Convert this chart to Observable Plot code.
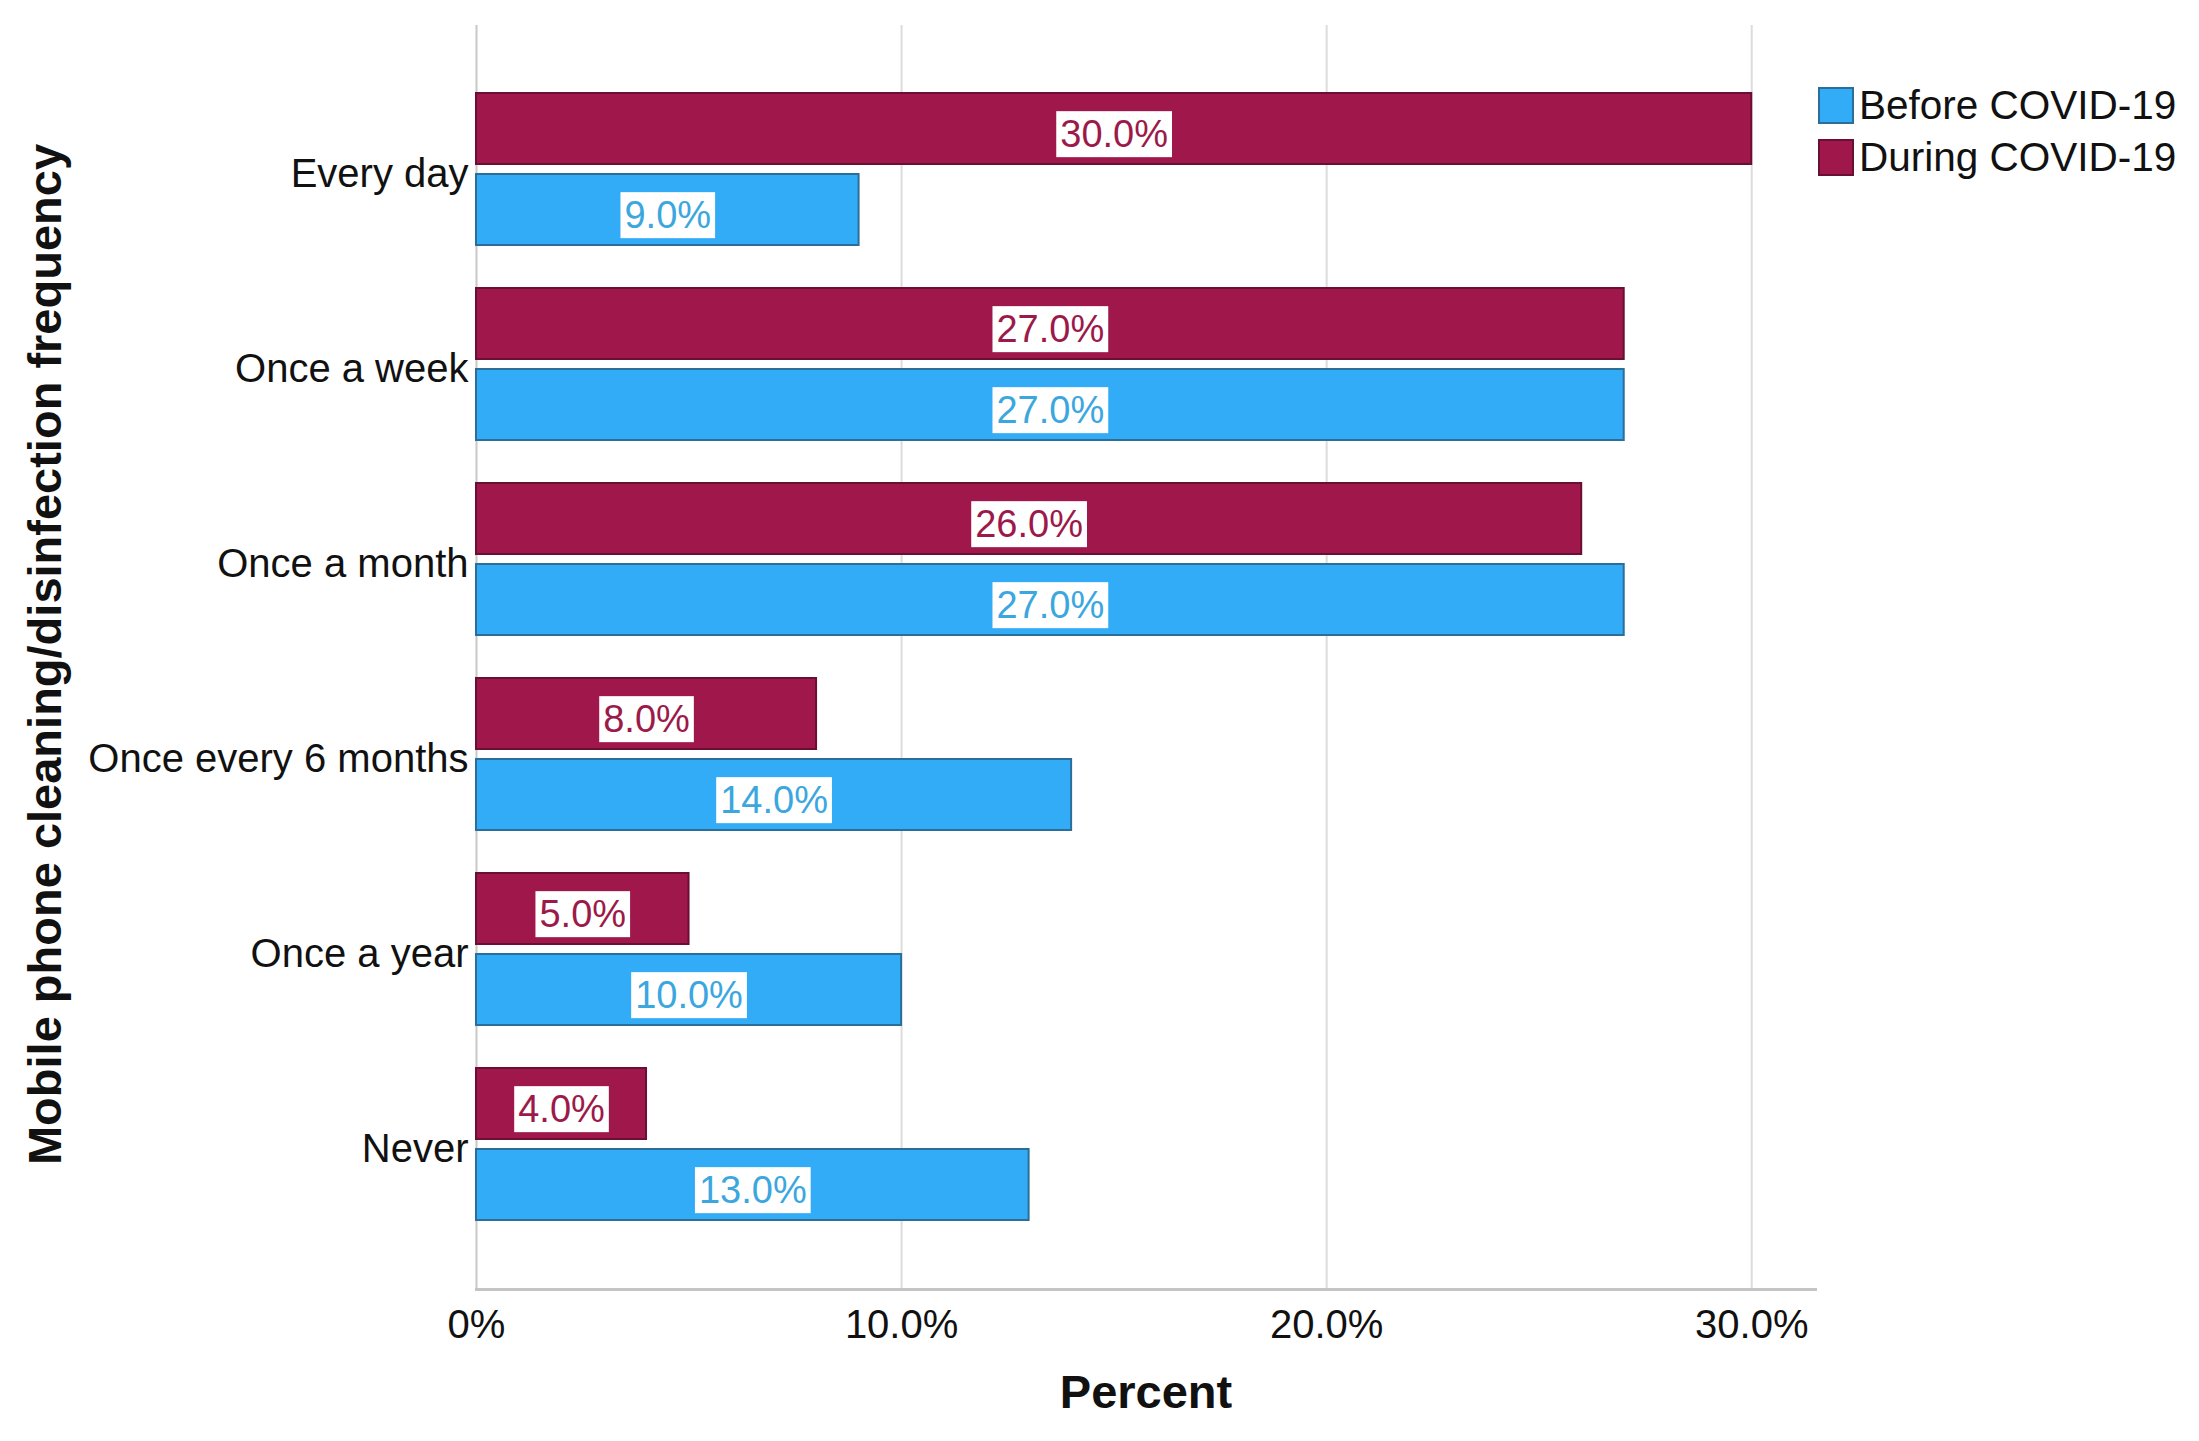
<!DOCTYPE html>
<html>
<head>
<meta charset="utf-8">
<script src="https://cdn.jsdelivr.net/npm/d3@7"></script>
<script src="https://cdn.jsdelivr.net/npm/@observablehq/plot@0.6"></script>
<style>
  html, body { margin: 0; padding: 0; background: #fff; }
  #wrap { position: relative; width: 2199px; height: 1441px; font-family: "Liberation Sans", Arial, sans-serif; }
  #legend { position: absolute; left: 1818px; top: 79px; }
  .row { display: flex; align-items: center; height: 52px; font-size: 40.5px; color: #111; }
  .sw { width: 36px; height: 37px; margin-right: 5px; box-sizing: border-box; }
</style>
</head>
<body>
<div id="wrap"><div id="legend"></div></div>
<script>
const categories = ["Every day", "Once a week", "Once a month", "Once every 6 months", "Once a year", "Never"];
const beforeValues = [9, 27, 27, 14, 10, 13];
const duringValues = [30, 27, 26, 8, 5, 4];
const seriesNames = ["Before COVID-19", "During COVID-19"];
const seriesColors = ["#33ACF8", "#A0174B"];
const seriesStrokes = ["#2B6E99", "#6A0F33"];
const labelColors = ["#3BA7DE", "#9C1A4A"];
const xTicks = [0, 10, 20, 30];
const xTickLabels = ["0%", "10.0%", "20.0%", "30.0%"];

const data = categories.flatMap((c, i) => [
  {category: c, series: seriesNames[0], value: beforeValues[i]},
  {category: c, series: seriesNames[1], value: duringValues[i]}
]);
const before = data.filter(d => d.series === seriesNames[0]);
const during = data.filter(d => d.series === seriesNames[1]);
const fmt = v => v.toFixed(1) + "%";

const plot = Plot.plot({
  width: 2199,
  height: 1441,
  marginLeft: 476,
  marginRight: 384,
  marginTop: 25,
  marginBottom: 152,
  style: {fontSize: "40px", fontFamily: "'Liberation Sans', Arial, sans-serif", color: "#111", background: "#fff"},
  x: {domain: [0, 31.5], ticks: xTicks, tickFormat: v => xTickLabels[xTicks.indexOf(v)], label: null},
  y: {domain: categories, paddingInner: 0, paddingOuter: 0.227, label: null},
  marks: [
    Plot.ruleX(xTicks.slice(1), {stroke: "#dcdcdc", strokeWidth: 2}),
    Plot.ruleX([0], {stroke: "#c8c8c8", strokeWidth: 2}),
    Plot.barX(during, {x: "value", y: "category", fill: seriesColors[1], stroke: seriesStrokes[1], strokeWidth: 2, insetTop: 21, insetBottom: 103}),
    Plot.barX(before, {x: "value", y: "category", fill: seriesColors[0], stroke: seriesStrokes[0], strokeWidth: 2, insetTop: 102, insetBottom: 22}),
    Plot.text(during, {x: d => d.value / 2, y: "category", text: d => fmt(d.value), dy: -35, fill: labelColors[1], fontSize: 38, ariaDescription: "value-label"}),
    Plot.text(before, {x: d => d.value / 2, y: "category", text: d => fmt(d.value), dy: 46, fill: labelColors[0], fontSize: 38, ariaDescription: "value-label"}),
    Plot.frame({anchor: "bottom", stroke: "#c4c4c4", strokeWidth: 3}),
    Plot.axisX({ticks: xTicks, tickFormat: v => xTickLabels[xTicks.indexOf(v)], tickSize: 0, tickPadding: 20, label: null}),
    Plot.axisY({tickSize: 0, tickPadding: 8, dy: 4, label: null}),
    Plot.text(["Percent"], {frameAnchor: "bottom", dy: 118, fontSize: 47, fontWeight: "bold", fill: "#111"}),
    Plot.text(["Mobile phone cleaning/disinfection frequency"], {frameAnchor: "left", textAnchor: "middle", dx: -431, dy: -3, rotate: -90, fontSize: 47, fontWeight: "bold", fill: "#111"})
  ]
});

const wrap = document.getElementById("wrap");
wrap.insertBefore(plot, wrap.firstChild);

// white label boxes behind value labels
plot.querySelectorAll('g[aria-description="value-label"] text').forEach(t => {
  const b = t.getBBox();
  const r = document.createElementNS("http://www.w3.org/2000/svg", "rect");
  const padX = 4, padY = 2;
  r.setAttribute("x", b.x - padX);
  r.setAttribute("y", b.y - padY);
  r.setAttribute("width", b.width + 2 * padX);
  r.setAttribute("height", b.height + 2 * padY);
  r.setAttribute("fill", "#fff");
  r.setAttribute("stroke", "none");
  const tr = t.getAttribute("transform");
  if (tr) r.setAttribute("transform", tr);
  t.parentNode.insertBefore(r, t);
});

const legend = document.getElementById("legend");
seriesNames.forEach((name, i) => {
  const row = document.createElement("div");
  row.className = "row";
  const sw = document.createElement("div");
  sw.className = "sw";
  sw.style.background = seriesColors[i];
  sw.style.border = "2px solid " + seriesStrokes[i];
  const lab = document.createElement("span");
  lab.textContent = name;
  row.appendChild(sw);
  row.appendChild(lab);
  legend.appendChild(row);
});
</script>
</body>
</html>
